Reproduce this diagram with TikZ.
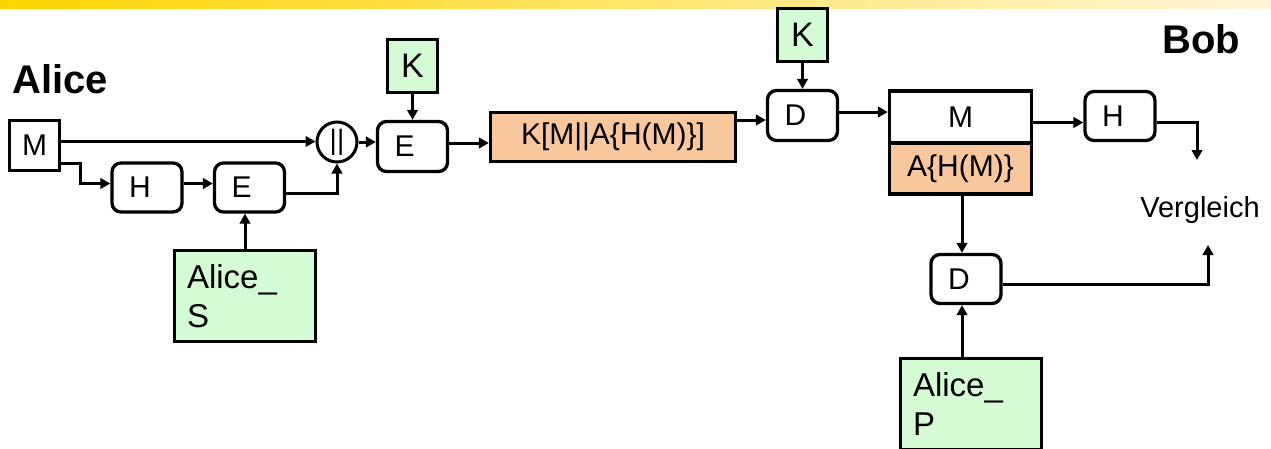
\documentclass[tikz,border=0pt]{standalone}
\usepackage{fontspec}
\setmainfont{Liberation Sans}
\usetikzlibrary{arrows.meta}
\definecolor{keygreen}{RGB}{212,251,212}
\definecolor{cipherorange}{RGB}{248,199,157}
\definecolor{bandgold}{RGB}{255,213,0}
\definecolor{bandlight}{RGB}{255,246,216}

\begin{document}
\begin{tikzpicture}[x=1pt,y=-1pt,
  box/.style={draw, line width=3.3pt, inner sep=0pt, font=\fontsize{30}{36}\selectfont},
  rbox/.style={box, rounded corners=9pt, minimum height=49pt, text width=36pt, inner xsep=17pt, align=left},
  keybox/.style={box, fill=keygreen, minimum width=50pt, minimum height=53pt, font=\fontsize{34}{40}\selectfont},
  privbox/.style={box, fill=keygreen, minimum height=91pt, text width=116pt, inner xsep=12.5pt, align=left, font=\fontsize{33}{39}\selectfont},
  arr/.style={line width=3pt, -{Triangle[length=10pt,width=10.5pt]}},
  party/.style={inner sep=0pt, anchor=base west, font=\fontsize{40}{48}\selectfont\bfseries}
]
\useasboundingbox (0,0) rectangle (1271,448);

% header band
\shade[left color=bandgold, right color=bandlight] (0,0) rectangle (1271,8.5);

% parties
\node[party] (alice) at (12,93) {Alice};
\node[party] (bob) at (1162,53) {Bob};

% sender side
\node[box, minimum width=50pt, minimum height=50pt] (msg) at (34.5,145.5) {M};
\node[rbox] (hashA) at (147,187.5) {H};
\node[rbox] (signA) at (249.5,187.5) {E};
\node[privbox] (privS) at (245,296) {Alice\_\\S};
\node[draw, circle, line width=3pt, minimum size=40pt, inner sep=0pt,
      font=\fontsize{28}{32}\selectfont] (cat) at (337,142) {||};
\node[keybox] (keyA) at (412.5,66) {K};
\node[rbox, minimum height=50pt] (encA) at (412.5,146.5) {E};
\node[box, fill=cipherorange, minimum width=245pt, minimum height=49pt] (cipher) at (613,137) {K[M||A\{H(M)\}]};

% receiver side
\node[keybox] (keyB) at (802.5,35) {K};
\node[rbox, minimum height=50pt] (decB) at (802.5,115.5) {D};
\node[box, fill=white, minimum width=142pt, minimum height=52pt] (msgB) at (960.5,117) {M};
\node[box, fill=cipherorange, minimum width=142pt, minimum height=51pt] (sigB) at (960.5,168.5) {A\{H(M)\}};
\node[rbox] (hashB) at (1120,116) {H};
\node[rbox] (decS) at (966,279) {D};
\node[privbox] (pubA) at (971,404) {Alice\_\\P};
\node[inner sep=0pt, anchor=base, font=\fontsize{29}{34}\selectfont] (cmp) at (1200,217) {Vergleich};
\coordinate (cmpIn1) at (1197,160);
\coordinate (cmpIn2) at (1208,245);

% connectors
\draw[arr] ([yshift=4pt]msg.east) -- ([yshift=4pt]msg.east -| cat.west);
\draw[arr] ([yshift=-17.5pt]msg.east) -- ++(19,0) |- ([yshift=4pt]hashA.west);
\draw[arr] ([yshift=4pt]hashA.east) -- ([yshift=4pt]signA.west);
\draw[arr] ([yshift=-5.5pt]signA.east) -| (cat.south);
\draw[arr] (privS.north) -- (privS.north |- signA.south);
\draw[arr] (cat.east) -- (cat.east -| encA.west);
\draw[arr] (keyA.south) -- (encA.north);
\draw[arr] ([yshift=3.5pt]encA.east) -- ([yshift=3.5pt]encA.east -| cipher.west);
\draw[arr] ([yshift=17pt]cipher.east) -- ([yshift=17pt]cipher.east -| decB.west);
\draw[arr] (keyB.south) -- (decB.north);
\draw[arr] ([yshift=3.5pt]decB.east) -- ([yshift=3.5pt]decB.east -| msgB.west);
\draw[arr] ([yshift=-5.5pt]msgB.east) -- ([yshift=-5.5pt]msgB.east -| hashB.west);
\draw[arr] ([yshift=-6pt]hashB.east) -| (cmpIn1);
\draw[arr] ([xshift=1.5pt]sigB.south) -- ([xshift=1.5pt]sigB.south |- decS.north);
\draw[arr] ([xshift=-9pt]pubA.north) -- ([xshift=-9pt]pubA.north |- decS.south);
\draw[arr] ([yshift=-5pt]decS.east) -| (cmpIn2);
\end{tikzpicture}
\end{document}
